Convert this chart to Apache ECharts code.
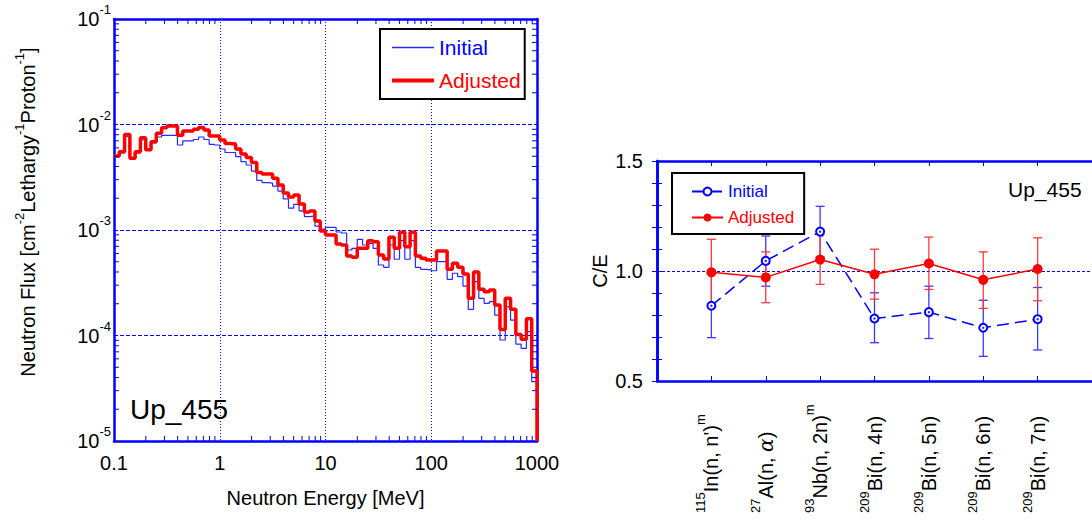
<!DOCTYPE html>
<html><head><meta charset="utf-8">
<script src="https://cdn.jsdelivr.net/npm/echarts@6/dist/echarts.min.js"></script>
<style>html,body{margin:0;padding:0;background:#fff}#c{width:1092px;height:523px}</style>
</head><body><div id="c"></div>
<script>
// ---------- Data ----------
const energyEdges = [
  0.1, 0.1122, 0.1259, 0.1413, 0.1585, 0.1778, 0.1995, 0.2239, 0.2512, 0.2818,
  0.3162, 0.3548, 0.3981, 0.4467, 0.5012, 0.5623, 0.631, 0.7079, 0.7943, 0.8913,
  1, 1.122, 1.259, 1.413, 1.585, 1.778, 1.995, 2.239, 2.512, 2.818,
  3.162, 3.548, 3.981, 4.467, 5.012, 5.623, 6.31, 7.079, 7.943, 8.913,
  10, 11.22, 12.59, 14.13, 15.85, 17.78, 19.95, 22.39, 25.12, 28.18,
  31.62, 35.48, 39.81, 44.67, 50.12, 56.23, 63.1, 70.79, 79.43, 89.13,
  100, 112.2, 125.9, 141.3, 158.5, 177.8, 199.5, 223.9, 251.2, 281.8,
  316.2, 354.8, 398.1, 446.7, 501.2, 562.3, 631, 707.9, 794.3, 891.3, 1000
];
const fluxInitial = [
  4.92e-3, 5.37e-3, 7.70e-3, 4.71e-3, 5.37e-3, 7.13e-3, 5.67e-3, 6.68e-3, 7.61e-3, 7.87e-3,
  7.87e-3, 7.87e-3, 6.39e-3, 6.98e-3, 6.98e-3, 7.21e-3, 7.61e-3, 7.21e-3, 6.49e-3, 6.39e-3,
  5.86e-3, 5.43e-3, 5.43e-3, 4.95e-3, 4.44e-3, 4.13e-3, 3.62e-3, 2.95e-3, 2.81e-3, 2.78e-3,
  2.61e-3, 2.34e-3, 1.97e-3, 1.61e-3, 1.75e-3, 1.52e-3, 1.34e-3, 1.36e-3, 1.09e-3, 1.02e-3,
  1.06e-3, 1.06e-3, 9.57e-4, 9.37e-4, 6.46e-4, 6.71e-4, 8.16e-4, 7.21e-4, 7.48e-4, 6.71e-4,
  4.66e-4, 4.43e-4, 7.21e-4, 5.28e-4, 7.92e-4, 5.28e-4, 7.92e-4, 4.43e-4, 4.24e-4, 4.18e-4,
  4.11e-4, 5.01e-4, 5.01e-4, 3.41e-4, 3.89e-4, 3.61e-4, 2.94e-4, 1.77e-4, 3.24e-4, 2.25e-4,
  2.02e-4, 2.09e-4, 1.56e-4, 9.06e-5, 1.87e-4, 1.40e-4, 8.30e-5, 7.56e-5, 1.09e-4, 3.65e-5
];
const fluxAdjusted = [
  5.03e-3, 5.52e-3, 8.04e-3, 4.78e-3, 5.52e-3, 7.50e-3, 5.77e-3, 6.87e-3, 8.25e-3, 9.33e-3,
  9.68e-3, 9.68e-3, 7.90e-3, 8.68e-3, 8.68e-3, 9.01e-3, 9.37e-3, 8.87e-3, 7.78e-3, 7.78e-3,
  7.13e-3, 6.61e-3, 6.53e-3, 5.86e-3, 5.25e-3, 4.87e-3, 4.36e-3, 3.51e-3, 3.40e-3, 3.40e-3,
  3.09e-3, 2.67e-3, 2.24e-3, 2.06e-3, 2.15e-3, 1.76e-3, 1.48e-3, 1.51e-3, 1.22e-3, 9.78e-4,
  8.97e-4, 8.97e-4, 7.37e-4, 7.21e-4, 5.67e-4, 5.51e-4, 6.71e-4, 6.71e-4, 7.92e-4, 7.75e-4,
  5.79e-4, 5.31e-4, 8.53e-4, 6.71e-4, 9.51e-4, 6.95e-4, 9.51e-4, 5.67e-4, 5.39e-4, 5.20e-4,
  5.20e-4, 6.32e-4, 6.32e-4, 4.24e-4, 4.83e-4, 4.43e-4, 3.83e-4, 2.25e-4, 4.00e-4, 2.74e-4,
  2.60e-4, 2.70e-4, 1.95e-4, 1.14e-4, 2.25e-4, 1.77e-4, 1.02e-4, 9.22e-5, 1.44e-4, 4.61e-5
];
const xTickLabels = ['0.1', '1', '10', '100', '1000'];
const yTickExponents = ['-5', '-4', '-3', '-2', '-1'];

const reactionIsotopes = ['115', '27', '93', '209', '209', '209', '209'];
const reactionNames = ["In(n, n')", 'Al(n, α)', 'Nb(n, 2n)', 'Bi(n, 4n)', 'Bi(n, 5n)', 'Bi(n, 6n)', 'Bi(n, 7n)'];
const reactionMeta = ['m', '', 'm', '', '', '', ''];
const ceInitial      = [0.842, 1.046, 1.179, 0.784, 0.813, 0.742, 0.781];
const ceInitialLow   = [0.697, 0.931, 1.064, 0.674, 0.693, 0.612, 0.641];
const ceInitialHigh  = [0.987, 1.159, 1.294, 0.901, 0.931, 0.867, 0.925];
const ceAdjusted     = [0.994, 0.971, 1.052, 0.985, 1.034, 0.960, 1.009];
const ceAdjustedLow  = [0.844, 0.856, 0.939, 0.872, 0.916, 0.830, 0.865];
const ceAdjustedHigh = [1.144, 1.087, 1.167, 1.099, 1.154, 1.087, 1.151];

// ---------- Build ----------
const FONT = '"Liberation Sans", Arial, sans-serif';
const BLUE = '#0000ff';
const X_MIN = 0.1, X_MAX = 1000, Y_MIN = 1e-5, Y_MAX = 0.1;

function stepPoints(vals) {
  const pts = [];
  for (let i = 0; i < vals.length; i++) {
    pts.push([energyEdges[i], vals[i]]);
    pts.push([energyEdges[i + 1], vals[i]]);
  }
  pts.push([energyEdges[energyEdges.length - 1], Y_MIN]);
  return pts;
}
function minorLogTicks(lo, hi) {
  const t = [];
  for (let d = lo; d < hi; d *= 10) for (let m = 2; m <= 9; m++) t.push(d * m);
  return t;
}
const xMinor = minorLogTicks(X_MIN, X_MAX);
const yMinor = minorLogTicks(Y_MIN, Y_MAX);

function tickSeries(vals, isX) {
  return {
    type: 'custom', xAxisIndex: 0, yAxisIndex: 0, silent: true, z: 5,
    data: vals.map(v => isX ? [v, Y_MIN] : [X_MIN, v]),
    renderItem(params, api) {
      const cs = params.coordSys;
      const L = 5;
      const st = { stroke: BLUE, lineWidth: 1 };
      if (isX) {
        const x = api.coord([api.value(0), Y_MIN])[0];
        return { type: 'group', children: [
          { type: 'line', shape: { x1: x, y1: cs.y + cs.height, x2: x, y2: cs.y + cs.height - L }, style: st },
          { type: 'line', shape: { x1: x, y1: cs.y, x2: x, y2: cs.y + L }, style: st }
        ] };
      }
      const y = api.coord([X_MIN, api.value(1)])[1];
      return { type: 'group', children: [
        { type: 'line', shape: { x1: cs.x, y1: y, x2: cs.x + L, y2: y }, style: st },
        { type: 'line', shape: { x1: cs.x + cs.width, y1: y, x2: cs.x + cs.width - L, y2: y }, style: st }
      ] };
    }
  };
}
function errorSeries(vals, lows, highs, color) {
  return {
    type: 'custom', xAxisIndex: 2, yAxisIndex: 2, silent: true, z: 3,
    data: vals.map((v, i) => [i + 1, lows[i], highs[i]]),
    renderItem(params, api) {
      const lo = api.coord([api.value(0), api.value(1)]);
      const hi = api.coord([api.value(0), api.value(2)]);
      const w = 4.5;
      const st = { stroke: color, lineWidth: 1.3 };
      return { type: 'group', children: [
        { type: 'line', shape: { x1: lo[0], y1: lo[1], x2: hi[0], y2: hi[1] }, style: st },
        { type: 'line', shape: { x1: lo[0] - w, y1: lo[1], x2: lo[0] + w, y2: lo[1] }, style: st },
        { type: 'line', shape: { x1: hi[0] - w, y1: hi[1], x2: hi[0] + w, y2: hi[1] }, style: st }
      ] };
    }
  };
}
function reactionLabel(i) {
  const name = reactionNames[i];
  let body;
  if (name.indexOf('α') >= 0) {
    const parts = name.split('α');
    body = '{m|' + parts[0] + '}{g|α}{m|' + parts[1] + '}';
  } else {
    body = '{m|' + name + '}';
  }
  return '{s|' + reactionIsotopes[i] + '}' + body + (reactionMeta[i] ? '{s|' + reactionMeta[i] + '}' : '');
}

const frameLine = { lineStyle: { color: BLUE, width: 2.5 } };
const supRich = {
  b: { fontSize: 20, fontFamily: FONT, color: '#000', padding: [6, 0, 6, 0] },
  s: { fontSize: 13, fontFamily: FONT, color: '#000', verticalAlign: 'top' }
};

const chart = echarts.init(document.getElementById('c'), null, { renderer: 'svg' });
chart.setOption({
  animation: false,
  backgroundColor: '#fff',
  textStyle: { fontFamily: FONT },
  grid: [
    { left: 114, top: 19, width: 423, height: 422 },
    { left: 657, top: 161, width: 439, height: 220 }
  ],
  xAxis: [
    { gridIndex: 0, type: 'log', logBase: 10, min: X_MIN, max: X_MAX, position: 'bottom',
      axisLine: frameLine, axisTick: { show: false },
      axisLabel: { fontSize: 20, color: '#000', margin: 12, fontFamily: FONT,
        formatter: v => xTickLabels[Math.round(Math.log10(v)) + 1] },
      splitLine: { show: true, lineStyle: { color: BLUE, width: 1, type: [1, 2] } },
      name: 'Neutron Energy [MeV]', nameLocation: 'middle', nameGap: 47,
      nameTextStyle: { fontSize: 20, color: '#000', fontFamily: FONT } },
    { gridIndex: 0, type: 'log', logBase: 10, min: X_MIN, max: X_MAX, position: 'top',
      axisLine: frameLine, axisTick: { show: false }, axisLabel: { show: false }, splitLine: { show: false } },
    { gridIndex: 1, type: 'value', min: 0, max: 8, interval: 1, position: 'bottom',
      axisLine: frameLine,
      axisTick: { show: true, inside: true, length: 5, lineStyle: { color: BLUE, width: 1 } },
      axisLabel: { rotate: 90, align: 'left', margin: 132, color: '#000',
        formatter: v => (v >= 1 && v <= reactionNames.length) ? reactionLabel(v - 1) : '',
        rich: {
          m: { fontSize: 20, fontFamily: FONT, color: '#000', padding: [7, 0, 7, 0] },
          g: { fontSize: 20, fontFamily: '"DejaVu Serif", "Liberation Serif", serif', fontStyle: 'italic', color: '#000', padding: [7, 0, 7, 0] },
          s: { fontSize: 13, fontFamily: FONT, color: '#000', verticalAlign: 'top' }
        } },
      splitLine: { show: false } },
    { gridIndex: 1, type: 'value', min: 0, max: 8, interval: 1, position: 'top',
      axisLine: frameLine,
      axisTick: { show: true, inside: true, length: 5, lineStyle: { color: BLUE, width: 1 } },
      axisLabel: { show: false }, splitLine: { show: false } }
  ],
  yAxis: [
    { gridIndex: 0, type: 'log', logBase: 10, min: Y_MIN, max: Y_MAX, position: 'left',
      axisLine: frameLine, axisTick: { show: false },
      axisLabel: { margin: 3, formatter: v => '{b|10}{s|' + yTickExponents[Math.round(Math.log10(v)) + 5] + '}', rich: supRich },
      splitLine: { show: true, lineStyle: { color: BLUE, width: 1, type: [4, 2] } } },
    { gridIndex: 0, type: 'log', logBase: 10, min: Y_MIN, max: Y_MAX, position: 'right',
      axisLine: frameLine, axisTick: { show: false }, axisLabel: { show: false }, splitLine: { show: false } },
    { gridIndex: 1, type: 'value', min: 0.5, max: 1.5, interval: 0.5, position: 'left',
      axisLine: frameLine,
      axisTick: { show: true, inside: true, length: 5, lineStyle: { color: BLUE } },
      minorTick: { show: true, splitNumber: 5, length: 5, lineStyle: { color: BLUE } },
      axisLabel: { fontSize: 20, color: '#000', margin: 14, fontFamily: FONT, formatter: v => v.toFixed(1) },
      splitLine: { show: true, lineStyle: { color: BLUE, width: 1, type: [3, 2] } },
      name: 'C/E', nameLocation: 'middle', nameGap: 47, nameRotate: 90,
      nameTextStyle: { fontSize: 20, color: '#000', fontFamily: FONT } },
    { gridIndex: 1, type: 'value', min: 0.5, max: 1.5, interval: 0.5, position: 'right',
      axisLine: frameLine,
      axisTick: { show: true, inside: true, length: 5, lineStyle: { color: BLUE } },
      minorTick: { show: true, splitNumber: 5, length: 5, lineStyle: { color: BLUE } },
      axisLabel: { show: false }, splitLine: { show: false } }
  ],
  legend: [
    { data: [
        { name: 'Initial', textStyle: { color: '#0000ff' }, lineStyle: { width: 1.3 } },
        { name: 'Adjusted', textStyle: { color: '#ff0000' }, lineStyle: { width: 4 } }
      ],
      itemStyle: { opacity: 0 },
      orient: 'vertical', left: 380, top: 29, padding: [8, 4, 8, 10], itemGap: 12, itemWidth: 42, itemHeight: 14,
      borderColor: '#000', borderWidth: 2, backgroundColor: '#fff', selectedMode: false,
      textStyle: { fontSize: 21, fontFamily: FONT } },
    { data: [{ name: 'C/E Initial', textStyle: { color: '#0000ff' } }, { name: 'C/E Adjusted', textStyle: { color: '#ff0000' } }],
      formatter: n => n.replace('C/E ', ''),
      orient: 'vertical', left: 672, top: 173, padding: [10, 10, 8, 19], itemGap: 9, itemWidth: 31, itemHeight: 10,
      borderColor: '#000', borderWidth: 2, backgroundColor: '#fff', selectedMode: false,
      textStyle: { fontSize: 17, fontFamily: FONT } }
  ],
  graphic: [
    { type: 'text', left: 130, top: 395, z: 100, style: { text: 'Up_455', fontSize: 28, fontFamily: FONT, fill: '#000' } },
    { type: 'text', left: 1008, top: 179, z: 100, style: { text: 'Up_455', fontSize: 21, fontFamily: FONT, fill: '#000' } },
    { type: 'text', x: 28, y: 212, rotation: Math.PI / 2, z: 100,
      style: {
        text: '{n|Neutron Flux [cm}{s|-2}{n|Lethargy}{s|-1}{n|Proton}{s|-1}{n|]}',
        align: 'center', verticalAlign: 'middle',
        rich: {
          n: { fontSize: 20, fontFamily: FONT, fill: '#000', padding: [5, 0, 5, 0] },
          s: { fontSize: 13, fontFamily: FONT, fill: '#000', verticalAlign: 'top' }
        }
      } }
  ],
  series: [
    { name: 'Initial', type: 'line', xAxisIndex: 0, yAxisIndex: 0, data: stepPoints(fluxInitial),
      symbol: 'none', lineStyle: { color: '#2a2aff', width: 1.2 }, itemStyle: { color: '#2a2aff' }, z: 2, clip: true },
    { name: 'Adjusted', type: 'line', xAxisIndex: 0, yAxisIndex: 0, data: stepPoints(fluxAdjusted),
      symbol: 'none', lineStyle: { color: '#ff0000', width: 3.5 }, itemStyle: { color: '#ff0000' }, z: 3, clip: true },
    tickSeries(xMinor, true),
    tickSeries(yMinor, false),
    errorSeries(ceInitial, ceInitialLow, ceInitialHigh, '#3a3aff'),
    errorSeries(ceAdjusted, ceAdjustedLow, ceAdjustedHigh, '#ff3a3a'),
    { name: 'C/E Initial', type: 'line', xAxisIndex: 2, yAxisIndex: 2,
      data: ceInitial.map((v, i) => [i + 1, v]),
      symbol: 'emptyCircle', symbolSize: 8,
      lineStyle: { color: BLUE, width: 1.5, type: [12, 6] },
      itemStyle: { color: BLUE, borderColor: BLUE, borderWidth: 1.2 }, z: 4 },
    { type: 'scatter', xAxisIndex: 2, yAxisIndex: 2, silent: true,
      data: ceInitial.map((v, i) => [i + 1, v]),
      symbol: 'circle', symbolSize: 2.5, itemStyle: { color: BLUE }, z: 6 },
    { name: 'C/E Adjusted', type: 'line', xAxisIndex: 2, yAxisIndex: 2,
      data: ceAdjusted.map((v, i) => [i + 1, v]),
      symbol: 'circle', symbolSize: 10,
      lineStyle: { color: '#ff0000', width: 1.5 },
      itemStyle: { color: '#ff0000' }, z: 5 }
  ]
});
</script>
</body></html>
